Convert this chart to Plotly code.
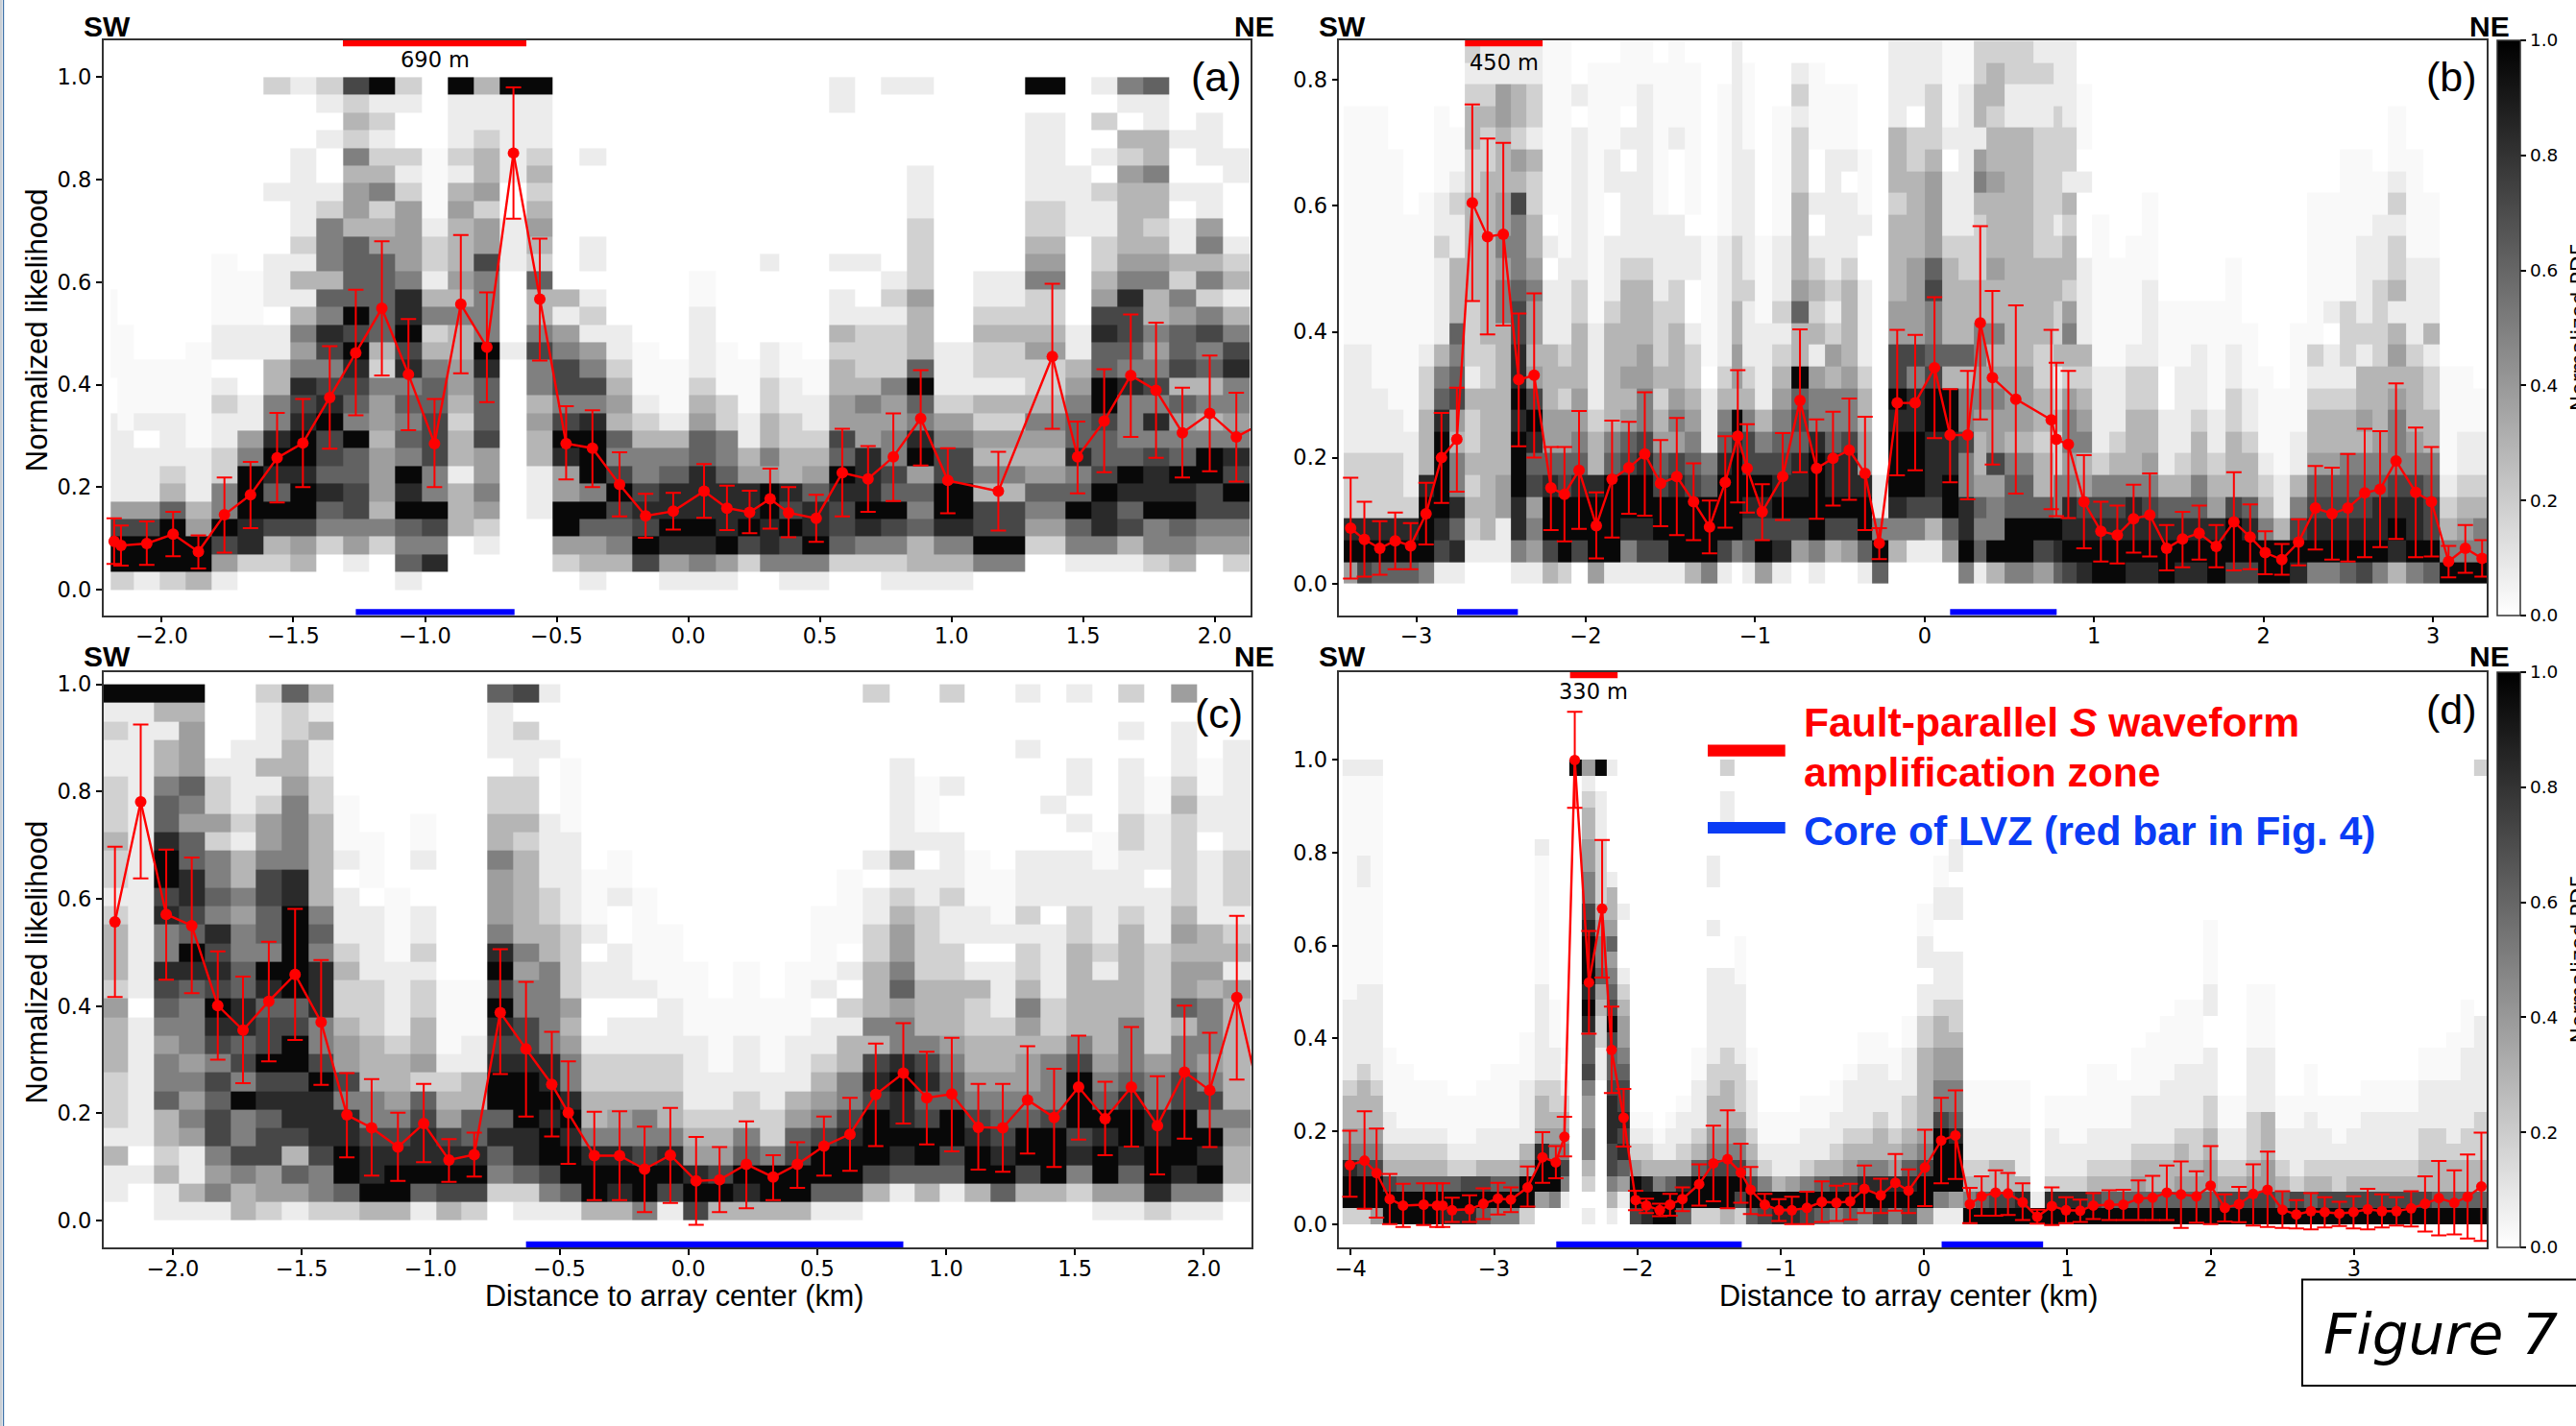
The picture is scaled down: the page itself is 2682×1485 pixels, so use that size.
import numpy as np
import plotly.graph_objects as go

W, H = 2682, 1485

# ---------- panel (a) ----------
A_X = [-2.181,-2.155,-2.057,-1.957,-1.861,-1.762,-1.663,-1.562,-1.464,-1.362,-1.263,-1.164,-1.063,-0.964,-0.864,-0.765,-0.664,-0.564,-0.464,-0.364,-0.261,-0.162,
       -0.057,0.060,0.147,0.233,0.311,0.381,0.486,0.585,0.683,0.779,0.883,0.986,1.178,1.383,1.479,1.580,1.681,1.777,1.877,1.981,2.082,2.18]
A_Y = [.094,.086,.09,.108,.074,.146,.185,.257,.286,.375,.462,.549,.42,.285,.557,.473,.852,.567,.285,.276,.205,.144,
       .153,.192,.159,.151,.177,.15,.139,.228,.216,.259,.334,.213,.192,.455,.259,.329,.418,.389,.306,.344,.298,.325]
A_HI = [.139,.125,.133,.152,.106,.219,.249,.345,.372,.475,.585,.68,.528,.372,.692,.58,.98,.685,.358,.35,.268,.187,
        .189,.245,.203,.193,.236,.2,.185,.314,.28,.344,.428,.276,.269,.597,.328,.43,.537,.521,.394,.457,.384,.41]
A_LO = [.05,.047,.048,.065,.041,.072,.12,.17,.2,.275,.34,.418,.311,.2,.422,.366,.724,.447,.215,.2,.143,.101,
        .117,.14,.116,.11,.119,.102,.093,.143,.152,.173,.242,.149,.115,.314,.188,.229,.298,.257,.219,.231,.211,.24]
A_COLS = ["299741111100aaaaa","299741111aaaaaa","1997411101aaa","2999632111aaa","39943111aaaaaa","147955221121011aaaa","028899954110011aaa",
 "02379689855331101110001000002","0347998998"+"7854531312"+"111110001","0025686779"+"8757856355"+"521001012",
 "0145776695"+"6789796666"+"344352327","0025344434"+"4523666664"+"325321219","1656989565"+"6587988544"+"442120012",
 "0857955777"+"6653253122"+"1aaaa","0003331332"+"3443353433"+"343121119","0012454476"+"6689555574"+"424332113",
 "0000000000"+"0001000011"+"100111119","0000111334"+"3557533623"+"432321119","0249944897"+"5775413",
 "1346959998"+"5754121011"+"00001","0356797563"+"432110","0797875532"+"1aaa","1489886531aaa","1589888664"+"321111aa",
 "1498886552"+"2aaa","0279884311aaa","0588994533"+"221100001","1579783322"+"11aa","1598864321"+"1aa",
 "0267789674"+"4332311010"+"000000011","0258988844"+"5322210010","1257967554"+"4522212100"+"000000001",
 "1336564985"+"6963334222"+"211100001","1358997754"+"211100","0597735342"+"312232110",
 "0024564345"+"3224322543"+"221111109","0156965866"+"5431100000"+"1111","0158897667"+"9966874322"+"112010201",
 "0137689655"+"5856778543"+"333423015","0255988758"+"5754533543"+"233533116","0356989654"+"6376645231"+"101001000",
 "0045779953"+"5365752535"+"4110111","0245797854"+"5587531321"+"0001100"]

# ---------- panel (b) ----------
B_X = [-3.388,-3.307,-3.216,-3.125,-3.034,-2.943,-2.852,-2.761,-2.67,-2.58,-2.487,-2.396,-2.305,-2.206,-2.126,-2.04,-1.938,-1.845,-1.746,-1.652,-1.559,-1.463,-1.364,-1.27,-1.177,-1.103,-1.048,-0.959,-0.838,-0.736,-0.638,-0.541,-0.445,-0.352,-0.268,-0.162,-0.056,0.058,
       0.15,0.254,0.328,0.4,0.538,0.747,0.777,0.848,0.94,1.04,1.137,1.233,1.329,1.428,1.522,1.62,1.721,1.825,1.921,2.01,2.108,2.207,2.306,2.404,2.498,2.597,2.688,2.782,2.898,2.991,3.092,3.191,3.29]
B_Y = [.088,.07,.056,.068,.06,.111,.2,.229,.605,.551,.555,.324,.331,.152,.142,.18,.092,.166,.184,.206,.159,.17,.13,.09,.161,.234,.183,.114,.17,.291,.183,.199,.212,.175,.064,.287,.287,.343,
       .236,.236,.414,.327,.293,.26,.229,.221,.13,.083,.077,.103,.109,.056,.071,.08,.059,.098,.074,.049,.038,.066,.12,.111,.12,.144,.15,.195,.145,.13,.035,.056,.04]
B_HI = [.168,.13,.099,.113,.096,.16,.271,.311,.761,.707,.7,.429,.461,.217,.217,.274,.145,.259,.257,.304,.228,.263,.191,.132,.234,.339,.253,.158,.239,.404,.261,.273,.294,.265,.088,.403,.395,.455,
        .309,.338,.568,.465,.442,.403,.351,.338,.204,.13,.124,.157,.175,.093,.114,.124,.093,.177,.126,.083,.063,.102,.187,.184,.206,.246,.242,.318,.248,.217,.06,.093,.069]
B_LO = [.008,.011,.014,.023,.023,.062,.128,.146,.449,.396,.41,.218,.2,.085,.067,.087,.04,.073,.111,.108,.091,.077,.069,.048,.089,.129,.113,.069,.101,.177,.103,.124,.133,.085,.039,.172,.18,.231,
        .161,.134,.261,.189,.143,.118,.107,.104,.056,.035,.032,.049,.043,.021,.026,.038,.026,.021,.023,.015,.014,.029,.054,.038,.035,.042,.058,.071,.042,.043,.01,.017,.011]
B_COLS = ["49822211111aaaaaaaaaaa","79822211111aaaaaaaaaaa","698222111aaaaaaaaaaaaa","69822211aaaaaaaaaaaa","6982111aaaaaaaaaa","59998333221aaaaaaa","178999986531111211aaaa","1868553476563331121aa",
 "0123232231222333332233212","0133333332"+"2333333332"+"23211","0114433333"+"3355454433"+"34411","1588999898"+"8776555734"+"23311",
 "1454768974"+"3445433223"+"12211","3799864433"+"3111010aaaaaaaa","2999764423"+"21111aaaaaaaaaa","0799865443"+"3322111111"+"10100",
 "4999833211"+"11aaaaaaaaaaaa","1999965333"+"3321110011aaaa","1589976434"+"3333211110"+"10aaa","1789987554"+"4333211111"+"111aa",
 "1799764323"+"2221111aaaaaaa","1999874543"+"3322111000"+"1aaaa","3999765432"+"2100110aaaaaaa","5999651110aaaaaa","1799986532"+"111111aaaaaaa",
 "0599998934"+"4332221111"+"11111","1678977532"+"1112111111aaaa","4978975311"+"11aaaa","1879876543"+"212111aaaaaa",
 "0479886769"+"3364333322"+"21210","1599998554"+"1323210100aaaa","0379886553"+"4212111111aaa","0479887554"+"3333211101aaa",
 "1699844332"+"1111001aaa","6951100","0358999897"+"7443333233"+"31111","0157999885"+"7444433332"+"20111",
 "0137888997"+"6557644443"+"22211","0469988993"+"6333321110"+"1aaaa","5988557553"+"6333221111"+"111aa",
 "1656433454"+"5533222354"+"13322","3955474454"+"3533433343"+"32332","5996653444"+"3333333333"+"31122",
 "4796332332"+"2333322222"+"21121","6895522321"+"3223321222"+"22111","7988545542"+"3542332312"+"21111",
 "8987435432"+"3111100010aaa","9987521111aaaaaaa","9987532111aaaaa","8988533322"+"1aaaaa","8987543322"+"1111aaaa","9986311100aaa","8986321111aaa",
 "8986533211"+"1aa","99843211aaaaa","7997333221"+"1aaaa","798633211aaa","995321aaaa","99311aaaa","8975311aaaaa","59876433212aaaaaaa","5987643321101aaaaa",
 "6987653321222aaaaaaa","7987653433121111aaaa","59886543332222111aa","3898755543431322121aaa","598875433321111aaaaa","697765332213111aaa",
 "95321aaaaa","9543211aaa","9553211aa"]

# ---------- panel (c) ----------
C_X = [-2.225,-2.125,-2.026,-1.927,-1.826,-1.728,-1.628,-1.526,-1.425,-1.325,-1.229,-1.127,-1.027,-0.929,-0.831,-0.73,-0.63,-0.53,-0.466,-0.365,-0.267,-0.17,-0.07,0.03,0.121,0.225,0.329,0.423,0.526,0.627,0.727,0.834,0.925,1.022,1.125,1.22,1.316,1.419,1.514,1.617,1.719,1.82,1.925,2.023,2.128,2.228]
C_Y = [.557,.781,.571,.55,.401,.355,.409,.459,.37,.197,.173,.137,.181,.113,.123,.388,.32,.254,.201,.121,.121,.096,.122,.074,.076,.105,.081,.105,.139,.161,.235,.275,.229,.236,.174,.173,.225,.192,.249,.19,.249,.177,.277,.243,.416,.207]
C_HI = [.697,.925,.692,.677,.502,.455,.52,.581,.486,.275,.264,.201,.255,.152,.164,.506,.445,.352,.297,.203,.204,.175,.21,.156,.137,.185,.122,.146,.194,.229,.33,.368,.315,.341,.255,.255,.325,.283,.345,.259,.361,.269,.401,.35,.568,.31]
C_LO = [.417,.638,.449,.424,.3,.256,.297,.337,.253,.118,.084,.074,.109,.072,.082,.273,.194,.157,.106,.038,.038,.016,.033,-.008,.016,.023,.038,.061,.084,.093,.139,.181,.142,.129,.095,.091,.125,.1,.151,.122,.138,.086,.153,.137,.263,.11]
C_COLS = ["0113122233"+"3423332122"+"322211219","0010111111"+"1011111111"+"111111119","1132336554"+"5678558799"+"866533139",
 "1311454545"+"5568967886"+"645644439","1545776757"+"8978785655"+"24221","3357559576"+"8866554533"+"121111",
 "2447768797"+"7689566775"+"442131112","1463788799"+"7699999885"+"555433226","2557888975"+"5888565333"+"332211313",
 "2699885744"+"3223211101aaa","3988755333"+"22211110aaa","3998754332"+"1111aaaa","1698876243"+"3221211001aa","379874321aaaa","2798663311aaa",
 "0256869987"+"8979854445"+"332201116","1268899987"+"7554533333"+"232211207","1579989885"+"5555332211"+"110001001",
 "1699898554"+"3422221111"+"1aaaa","3998533221"+"001101aaa","3898543221"+"10111001aa","5997553221"+"101aaaaa","1798533221"+"11aaaa",
 "7984321111aaaa","39743211aaaa","3896522111aaaa","39952211aaaa","3997643111aaaa","1699754321"+"101aaaa","1699875533"+"12010aaaa",
 "0379997873"+"5333221101"+"000000002","0168988985"+"5465443213"+"11111","0369976875"+"3332222110"+"1aaa",
 "0167996654"+"3332211211"+"100100002","0399875433"+"2231011aaa","0698765433"+"211101aaa","0379965443"+"4532212111"+"000001001",
 "0399975553"+"2211110111"+"001","0258799975"+"3333322111"+"010110001","1499896543"+"333121111aa","1468998655"+"5333332111"+"221110102",
 "2899885542"+"2222211101"+"11aa","1589997755"+"3644343222"+"223211104","1598957545"+"5534331111"+"011aa","0133453333"+"3341321222"+"111111"]

# ---------- panel (d) ----------
D_X = [-4.006,-3.904,-3.82,-3.728,-3.635,-3.491,-3.398,-3.359,-3.293,-3.171,-3.075,-2.973,-2.883,-2.766,-2.662,-2.569,-2.509,-2.437,-2.338,-2.246,-2.18,-2.096,-2.012,-1.937,-1.844,-1.772,-1.686,-1.569,-1.47,-1.371,-1.278,-1.21,-1.111,-1.012,-0.922,-0.817,-0.713,-0.611,-0.515,-0.416,-0.302,-0.2,-0.108,0.006,0.12,0.219,0.32,
       0.402,0.499,0.586,0.688,0.79,0.892,0.991,1.09,1.181,1.292,1.391,1.496,1.595,1.694,1.793,1.901,2.0,2.099,2.198,2.297,2.397,2.501,2.598,2.7,2.796,2.898,2.997,3.096,3.195,3.297,3.399,3.496,3.592,3.7,3.793,3.889]
D_Y = [.127,.137,.11,.054,.04,.042,.04,.04,.03,.032,.044,.055,.053,.079,.144,.133,.188,.999,.52,.679,.375,.229,.052,.04,.03,.042,.054,.086,.131,.14,.111,.074,.042,.03,.03,.035,.048,.046,.049,.076,.062,.089,.072,.122,.18,.191,.043,
       .06,.068,.066,.047,.016,.039,.03,.029,.04,.042,.042,.055,.057,.068,.064,.06,.083,.035,.043,.065,.074,.031,.021,.028,.026,.023,.026,.032,.028,.028,.034,.044,.056,.046,.059,.081]
D_HI = [.201,.243,.206,.108,.087,.088,.088,.088,.057,.062,.077,.089,.079,.124,.198,.168,.231,1.103,.631,.827,.468,.291,.072,.055,.044,.065,.079,.129,.212,.245,.173,.123,.065,.054,.059,.07,.092,.083,.087,.126,.098,.151,.118,.203,.272,.288,.078,
        .103,.116,.11,.088,.031,.079,.058,.053,.067,.073,.074,.094,.104,.126,.135,.114,.168,.064,.08,.129,.156,.071,.052,.067,.058,.048,.06,.076,.064,.058,.071,.103,.136,.116,.15,.197]
D_LO = [.059,.033,.014,0,-.006,-.002,-.006,-.006,.005,.005,.011,.021,.026,.038,.089,.099,.146,.896,.41,.531,.282,.167,.03,.024,.017,.018,.028,.04,.049,.034,.046,.022,.019,.007,0,0,.005,.007,.01,.024,.024,.029,.024,.039,.088,.097,.002,
        .018,.018,.02,.009,.001,-.002,.002,.005,.011,.009,.009,.009,.009,.009,-.008,.003,0,.006,.004,-.003,-.006,-.008,-.009,-.011,-.007,-.004,-.009,-.011,-.007,-.003,-.005,-.016,-.024,-.022,-.031,-.036]
D_COLS = ["2998543321"+"1111aaaaaa"+"aaaaaaaa1","2997543332"+"11111aaaaa"+"a11aaaaa1","4997543321"+"11111aaaaa"+"aaaaaaaa1",
 "9973211aaaa","996321aaaa","996321aaa","996321aaa","896321aaa","89621aaa","89721aaa","697311aaa","596311aaaa","596311aaaa","299431111aaa",
 "0499843321"+"11111aaaaa"+"aaa1","0599543221"+"1aaa","0157543210a","0000000000"+"0000000000"+"000000009",
 "1023554457"+"6689899987"+"554433214","0000000001"+"1223465543"+"222211109","1357788876"+"6797654643"+"310000001",
 "0146878776"+"5443210001","799421a","898321a","99531a","996311a","6983211a","299632111aa","2997543322"+"1111110010"+"011",
 "3997543332"+"2111110000"+"000001102","2797543222"+"11111aaa","697432111aa","79521aa","89311aa","89411aa","795211aa","696311aa",
 "5973211aa","697432111a","5985321111aa","7985332111aa","598432111aa","7986432211"+"1aa","4997543333"+"32211011aa",
 "1599997554"+"4332111001"+"1aa","1499986554"+"4322111001"+"1011","953211aaa",
 "963211aaa","973311aaa","973311aaa","983111aaa","91","982111aa","98211aaa","98211aaa","973211aaaa","963211aaaa","963211aaa","96432111aaa","96332111aaaa",
 "963321111aaaa","9643321111aaaa","9643221111aaaa","9644332211"+"10011aaaa","973211aa","973211aa","9743222111"+"1aaaa","9744333111"+"1aaaa",
 "963211aa","972111aa","9632111aaa","973211aa","97221aaa","973211aa","9732111aa","9732111aa","9732111aa","9732111aa","973322111aa","963322111aa",
 "963321111aaa","96332211111aaa","9633222111111"+"000000000000000"+"2"]

# darkness, one character per cell -> PDF value
SHADES = "0123456789a"
LEVELS = [0.0, 0.075, 0.18, 0.29, 0.38, 0.50, 0.615, 0.72, 0.835, 0.97, 0.025]
BIN = 1 / 29

# bars: (start, end) in km
A_RED = [(-1.312, -0.615)]; A_BLUE = [(-1.263, -0.66)]
B_RED = [(-2.713, -2.255)]; B_BLUE = [(-2.76, -2.401), (0.15, 0.779)]
C_RED = [];                 C_BLUE = [(-0.63, 0.834)]
D_RED = [(-2.47, -2.138)];  D_BLUE = [(-2.566, -1.272), (0.123, 0.831)]

INK = "#333333"
TICK = 22.5
MONO = "DejaVu Sans"
ARIAL = "Liberation Sans"


def grid(cols, nrows):
    m = np.zeros((nrows, len(cols)))
    for j, s in enumerate(cols):
        for i, ch in enumerate(s[:nrows]):
            m[i, j] = LEVELS[SHADES.index(ch)]
    return m


panels = [
    dict(k="", X=A_X, Y=A_Y, HI=A_HI, LO=A_LO, C=A_COLS, rows=29, px=(107.6, 1302, 42, 640.5),
         xr=(-2.222, 2.136), yr=(-0.0497, 1.072), xt=[-2, -1.5, -1, -.5, 0, .5, 1, 1.5, 2], xf=".1f",
         yt=[0, .2, .4, .6, .8, 1], red=A_RED, blue=A_BLUE, lab=("(a)", 1266, 80), sw=111, ne=1306, ty=27,
         note=("690 m", -0.963, 62.4), cb=False, ms=12, yl=True, xl=None),
    dict(k="2", X=B_X, Y=B_Y, HI=B_HI, LO=B_LO, C=B_COLS, rows=25, px=(1394.4, 2589, 42, 640.5),
         xr=(-3.455, 3.317), yr=(-0.05, 0.863), xt=[-3, -2, -1, 0, 1, 2, 3], xf="d",
         yt=[0, .2, .4, .6, .8], red=B_RED, blue=B_BLUE, lab=("(b)", 2552, 80), sw=1397.5, ne=2591.6, ty=27,
         note=("450 m", -2.485, 65), cb=True, ms=12, yl=False, xl=None),
    dict(k="3", X=C_X, Y=C_Y, HI=C_HI, LO=C_LO, C=C_COLS, rows=29, px=(107.6, 1303, 700, 1299),
         xr=(-2.27, 2.185), yr=(-0.05, 1.0226), xt=[-2, -1.5, -1, -.5, 0, .5, 1, 1.5, 2], xf=".1f",
         yt=[0, .2, .4, .6, .8, 1], red=C_RED, blue=C_BLUE, lab=("(c)", 1269, 742.6), sw=111, ne=1306, ty=683.5,
         note=None, cb=False, ms=12, yl=True, xl=702),
    dict(k="4", X=D_X, Y=D_Y, HI=D_HI, LO=D_LO, C=D_COLS, rows=29, px=(1394.4, 2589, 700, 1299),
         xr=(-4.08, 3.926), yr=(-0.05, 1.188), xt=[-4, -3, -2, -1, 0, 1, 2, 3], xf="d",
         yt=[0, .2, .4, .6, .8, 1], red=D_RED, blue=D_BLUE, lab=("(d)", 2552, 739), sw=1397.5, ne=2591.6, ty=683.5,
         note=("330 m", -2.308, 720), cb=True, ms=11, yl=False, xl=1987),
]

fig = go.Figure()
shapes, annos = [], []
layout = {}


def txt(text, x, y, size, family, color="black", angle=0, anchor="center", bold=False, italic=False):
    annos.append(dict(text=text, x=x / W, y=1 - y / H, xref="paper", yref="paper", showarrow=False,
                      xanchor=anchor, yanchor="middle", textangle=angle, captureevents=False,
                      font=dict(size=size, family=family, color=color,
                                weight="bold" if bold else "normal", style="italic" if italic else "normal")))


for p in panels:
    k = p["k"]
    xa, ya = "x" + k, "y" + k
    L, R, T, B = p["px"]
    z = grid(p["C"], p["rows"])
    hx = p["X"][:len(p["C"])]
    hy = [(i + 0.5) * BIN for i in range(p["rows"])]
    cb = None
    if p["cb"]:
        cb = dict(x=2600.3 / W, xanchor="left", xpad=0, xref="paper", y=1 - T / H, yanchor="top", yref="paper", ypad=0,
                  thickness=24.3, thicknessmode="pixels", len=B - T, lenmode="pixels",
                  tickvals=[0, .2, .4, .6, .8, 1], tickformat=".1f", ticks="outside", ticklen=6, tickwidth=1.5,
                  tickcolor="black", tickfont=dict(size=18.5, family=MONO, color="black"),
                  outlinewidth=1.5, outlinecolor=INK)
    fig.add_trace(go.Heatmap(x=hx, y=hy, z=z, xaxis=xa, yaxis=ya, zmin=0, zmax=1,
                             colorscale=[[0, "#ffffff"], [1, "#000000"]], showscale=bool(p["cb"]),
                             colorbar=cb, hoverinfo="skip"))
    v = np.array(p["Y"]); hi = np.array(p["HI"]); lo = np.array(p["LO"])
    fig.add_trace(go.Scatter(x=p["X"], y=p["Y"], xaxis=xa, yaxis=ya, mode="lines+markers", showlegend=False,
                             line=dict(color="#ff0000", width=2.4),
                             marker=dict(color="#ff0000", size=p["ms"]),
                             error_y=dict(type="data", symmetric=False, array=hi - v, arrayminus=v - lo,
                                          color="#ff0000", thickness=2, width=8)))
    layout["xaxis" + k] = dict(domain=[L / W, R / W], range=list(p["xr"]), anchor=ya, tickvals=p["xt"], tickformat=p["xf"],
                               ticks="outside", ticklen=6, tickwidth=1.5, tickcolor="black", showgrid=False, zeroline=False,
                               showline=True, mirror=True, linecolor=INK, linewidth=1.5, ticklabelstandoff=-5,
                               tickfont=dict(size=TICK, family=MONO, color="black"))
    layout["yaxis" + k] = dict(domain=[1 - B / H, 1 - T / H], range=list(p["yr"]), anchor=xa, tickvals=p["yt"], tickformat=".1f",
                               ticks="outside", ticklen=6, tickwidth=1.5, tickcolor="black", showgrid=False, zeroline=False,
                               showline=True, mirror=True, linecolor=INK, linewidth=1.5,
                               tickfont=dict(size=TICK, family=MONO, color="black"))
    frac = 6.2 / (B - T)
    yd = ya + " domain"
    for a, b in p["red"]:
        shapes.append(dict(type="rect", xref=xa, yref=yd, x0=a, x1=b, y0=1 - frac, y1=1, fillcolor="#ff0000", line_width=0))
    for a, b in p["blue"]:
        shapes.append(dict(type="rect", xref=xa, yref=yd, x0=a, x1=b, y0=0, y1=frac, fillcolor="#0000ff", line_width=0))
    if p["note"]:
        t, nx, ny = p["note"]
        annos.append(dict(text=t, x=nx, xref=xa, y=1 - ny / H, yref="paper", showarrow=False, yanchor="middle",
                          font=dict(size=TICK, family=MONO, color="black")))
    txt("SW", p["sw"], p["ty"], 30, ARIAL, bold=True)
    txt("NE", p["ne"], p["ty"], 30, ARIAL, bold=True)
    txt(p["lab"][0], p["lab"][1], p["lab"][2], 43, ARIAL)
    if p["yl"]:
        txt("Normalized likelihood", 38, (T + B) / 2 + 3, 31, ARIAL, angle=-90)
    if p["xl"]:
        txt("Distance to array center (km)", p["xl"], 1349.5, 30.6, ARIAL)
    if p["cb"]:
        txt("Normalized PDF", 2684, (T + B) / 2, 22, MONO, angle=-90)

# legend drawn in panel (d)
RED_TXT, BLUE_TXT = "#ff0000", "#0a3cf5"
for y0, y1, c in [(775.6, 787.7, RED_TXT), (856, 868, BLUE_TXT)]:
    shapes.append(dict(type="rect", xref="paper", yref="paper", x0=1778 / W, x1=1858.7 / W, y0=1 - y1 / H, y1=1 - y0 / H,
                       fillcolor=c, line_width=0))
txt("Fault-parallel <i>S</i> waveform", 1876, 752, 42.6, ARIAL, color=RED_TXT, anchor="left", bold=True)
txt("amplification zone", 1876, 804, 42.6, ARIAL, color=RED_TXT, anchor="left", bold=True)
txt("Core of LVZ (red bar in Fig. 4)", 1876, 865, 42.6, ARIAL, color=BLUE_TXT, anchor="left", bold=True)

# figure tag and page-edge strip
shapes.append(dict(type="rect", xref="paper", yref="paper", x0=2397 / W, x1=2690 / W, y0=1 - 1443 / H, y1=1 - 1332.6 / H,
                   line=dict(color="black", width=2), fillcolor="white"))
txt("Figure 7", 2417, 1389, 59.5, MONO, anchor="left", italic=True)
shapes.append(dict(type="rect", xref="paper", yref="paper", x0=0, x1=2.4 / W, y0=0, y1=1, fillcolor="#c9ced4", line_width=0))
shapes.append(dict(type="rect", xref="paper", yref="paper", x0=3 / W, x1=4.2 / W, y0=0, y1=1, fillcolor="#3f72a8", line_width=0))

fig.update_layout(width=W, height=H, margin=dict(l=0, r=0, t=0, b=0, autoexpand=False), paper_bgcolor="white",
                  plot_bgcolor="white", showlegend=False, shapes=shapes, annotations=annos, **layout)

fig.write_html("out.html", config=dict(displayModeBar=False),
               post_script="document.body.style.margin='0';document.documentElement.style.overflow='hidden';")
